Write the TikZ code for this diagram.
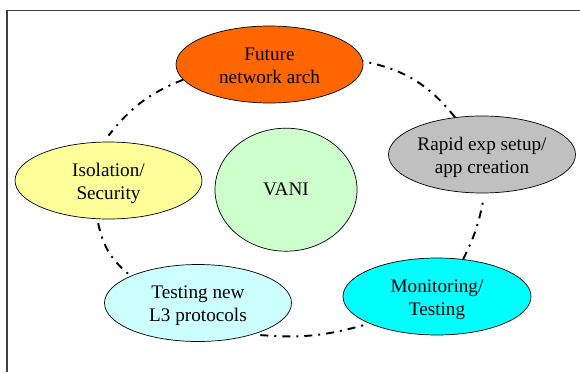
\documentclass[tikz,border=0pt]{standalone}
\usepackage{fontspec}
\setmainfont{Liberation Serif}
\usetikzlibrary{shapes.geometric}
\definecolor{futorange}{HTML}{FF6600}
\definecolor{rapgray}{HTML}{C0C0C0}
\definecolor{isoyellow}{HTML}{FFFF99}
\definecolor{vanigreen}{HTML}{CCFFCC}
\definecolor{l3cyan}{HTML}{CCFFFF}
\definecolor{moncyan}{HTML}{00FFFF}
\definecolor{framegray}{HTML}{404040}
% two centred lines, set a little low inside the ellipse
\newcommand{\twolines}[2]{\raisebox{-2.5pt}[\height][\depth]{%
  \begin{tabular}{@{}c@{}}#1\\#2\end{tabular}}}
\tikzset{
  topic/.style={ellipse, draw=black, line width=0.7pt, inner sep=0pt,
    minimum width=187pt, minimum height=77pt,
    font=\fontsize{19.2}{23}\selectfont},
  link/.style={line width=1.9pt, line cap=butt,
    dash pattern=on 8pt off 6pt on 2pt off 6pt},
  frameline/.style={draw=framegray, line width=1.3pt}
}
\begin{document}
\begin{tikzpicture}[x=1pt,y=1pt]
\useasboundingbox (0,0) rectangle (580,-372);
% page frame
\draw[frameline] (7,-372) -- (7,-10.5) -- (580,-10.5);

% topic ellipses
\node[topic, fill=futorange] (fut) at (269.5,-64.5) {\twolines{Future}{network arch}};
\node[topic, fill=rapgray] (rap) at (482,-154.5) {\twolines{Rapid exp setup/}{app creation}};
\node[topic, fill=isoyellow] (iso) at (108.5,-180.5) {\twolines{Isolation/}{Security}};
\node[topic, fill=l3cyan] (lthree) at (198,-303) {\twolines{Testing new}{L3 protocols}};
\node[topic, fill=moncyan, minimum width=188pt] (mon) at (437,-296.5) {\twolines{Monitoring/}{Testing}};
\node[topic, fill=vanigreen, minimum width=142pt, minimum height=123pt] (vani) at (286,-189.7) {VANI};

% dash-dot ring linking the topics
\draw[link] (fut.190) to[bend right=15] ([yshift=6pt]iso.90);
\draw[link] ([yshift=-4pt]iso.255) to[bend right=20] (lthree.158);
\draw[link] ([yshift=-3pt]lthree.335) to[bend right=10] ([xshift=-3pt,yshift=-3pt]mon.200);
\draw[link] (mon.55) to[bend right=8] ([yshift=-6pt]rap.272);
\draw[link] (rap.126) to[bend right=20] (fut.2);
\end{tikzpicture}
\end{document}
